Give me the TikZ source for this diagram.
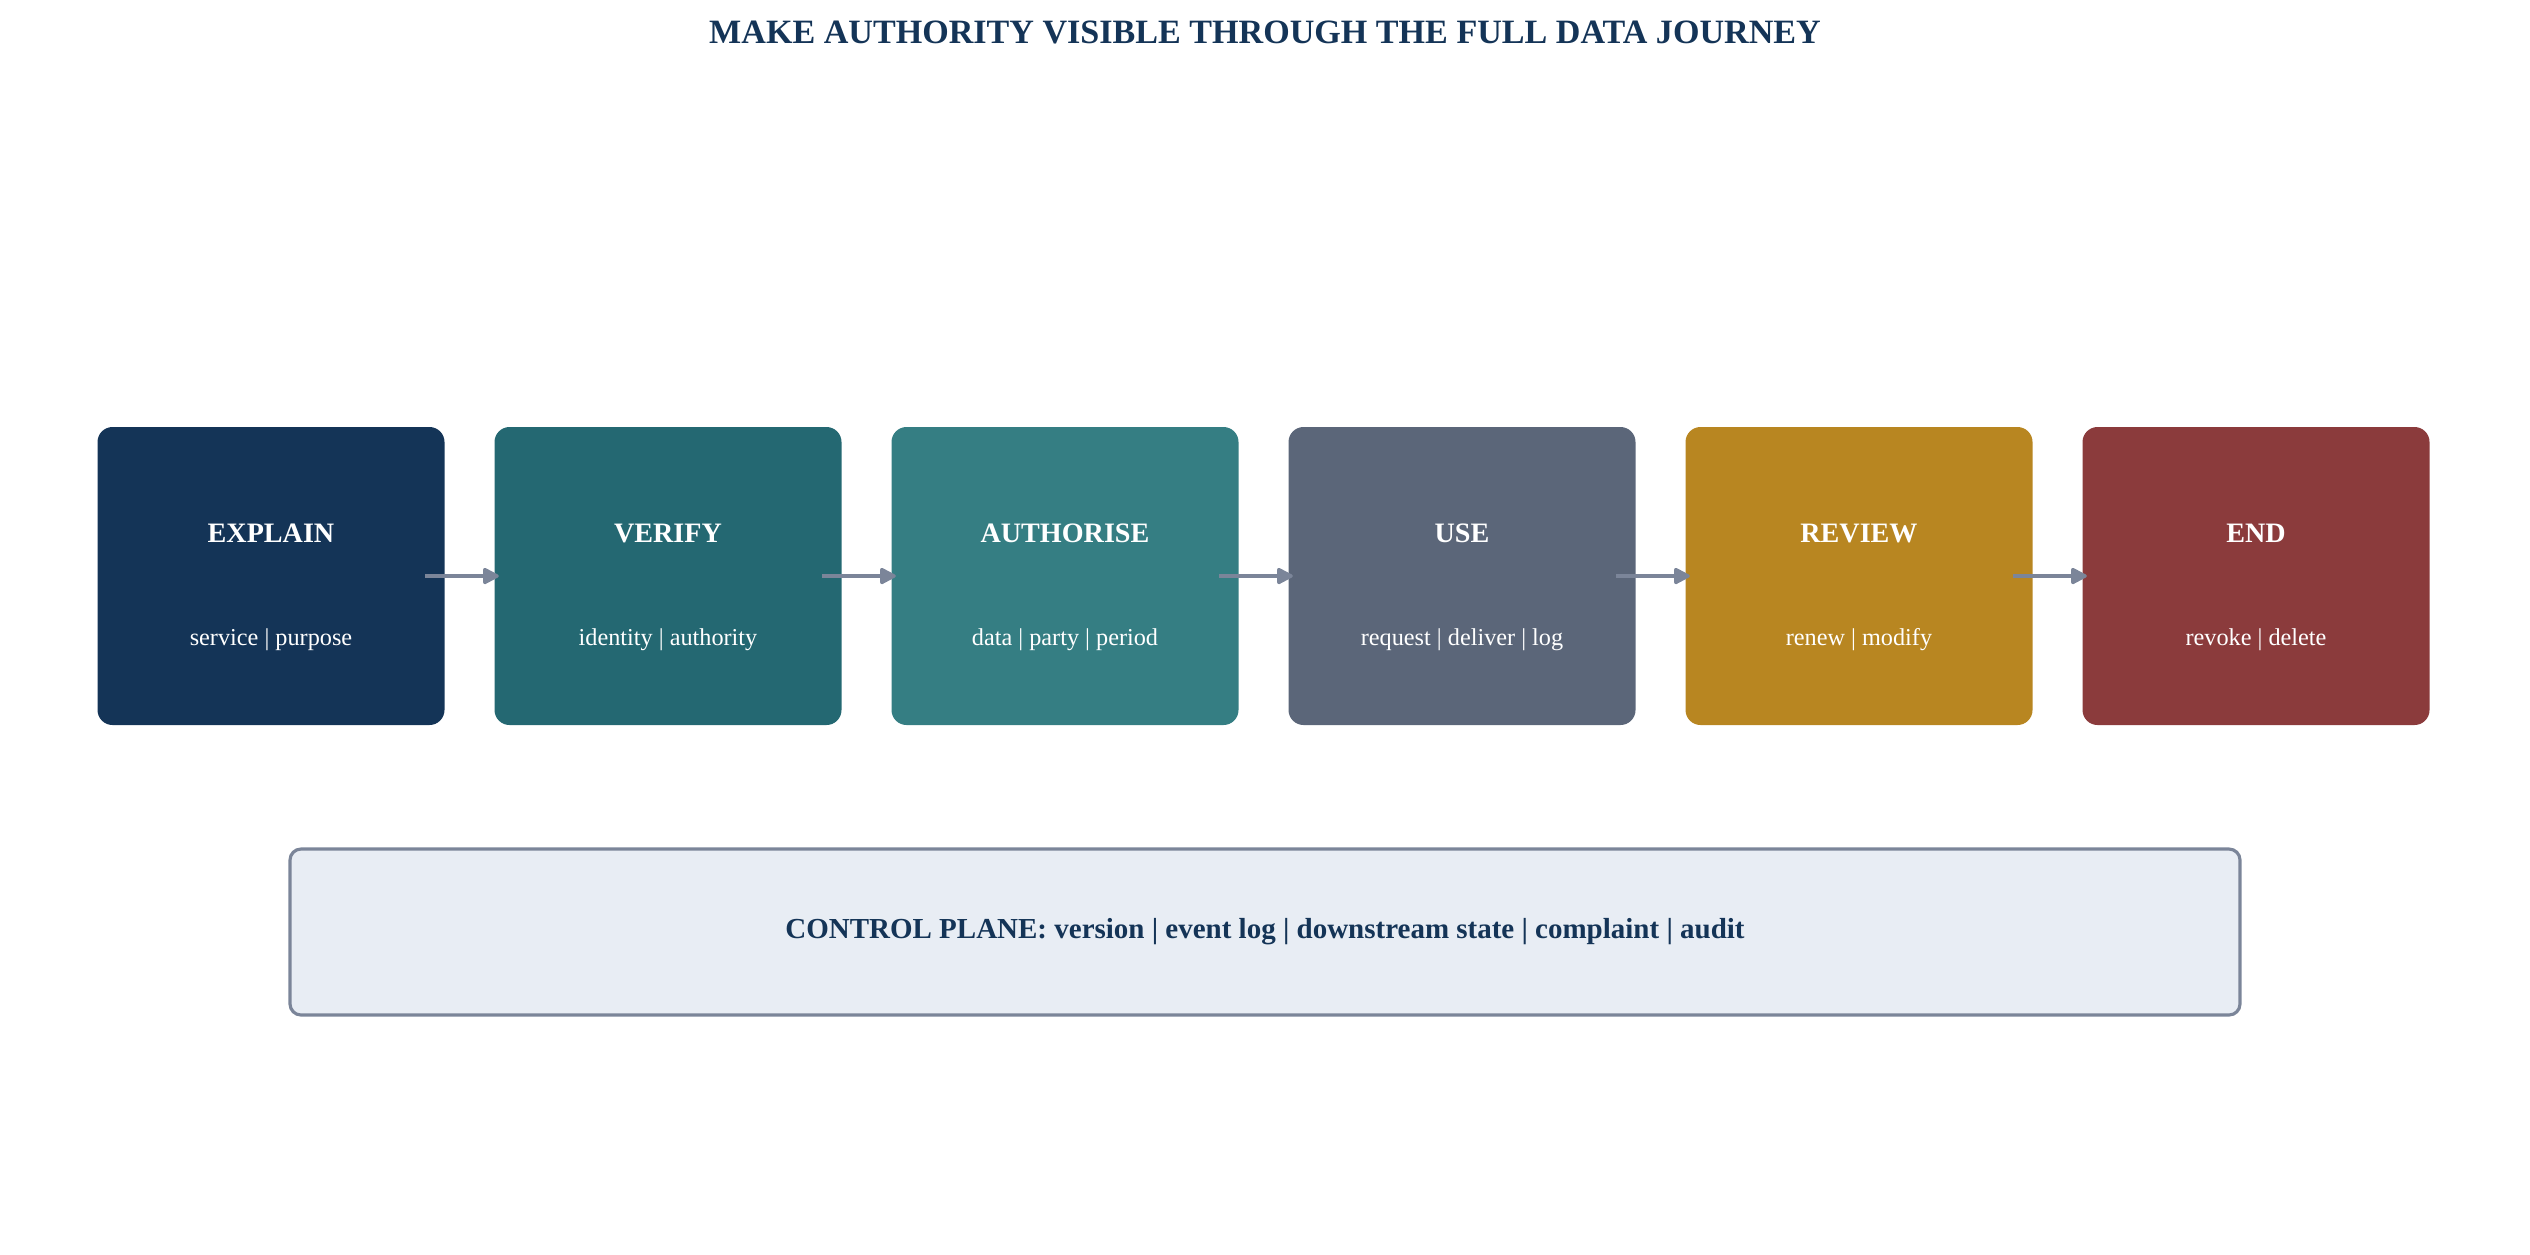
\documentclass[tikz,border=0pt]{standalone}
\usepackage{fontspec}
\setmainfont{Liberation Serif}
\usetikzlibrary{arrows.meta}
\definecolor{navy}{HTML}{143457}
\definecolor{cexplain}{HTML}{143457}
\definecolor{cverify}{HTML}{246872}
\definecolor{cauthorise}{HTML}{357E83}
\definecolor{cuse}{HTML}{5B6679}
\definecolor{creview}{HTML}{B88621}
\definecolor{cend}{HTML}{8B3B3C}
\definecolor{linegray}{HTML}{7B8599}
\definecolor{cpfill}{HTML}{E8EDF4}

\begin{document}
\begin{tikzpicture}[x=0.1mm,y=-0.1mm,
    stage/.style={rounded corners=1.5mm,minimum width=34.7mm,minimum height=29.8mm,inner sep=0pt},
    flow/.style={-{Triangle[length=5pt,width=5pt,round]},line width=0.9pt,linegray}]
  \useasboundingbox (0,0) rectangle (2530,1254);
  \node[text=navy,font=\bfseries\fontsize{9.7}{12}\selectfont] (title) at (1265,32) {MAKE AUTHORITY VISIBLE THROUGH THE FULL DATA JOURNEY};
  % stages
  \foreach \i/\name/\col/\ttl/\sbt in {0/explain/cexplain/EXPLAIN/service | purpose,
      1/verify/cverify/VERIFY/identity | authority,
      2/authorise/cauthorise/AUTHORISE/data | party | period,
      3/use/cuse/USE/request | deliver | log,
      4/review/creview/REVIEW/renew | modify,
      5/end/cend/END/revoke | delete} {
    \pgfmathsetmacro\cx{271+397*\i}
    \node[stage,fill=\col] (\name) at (\cx,576) {};
    \node[white,font=\bfseries\fontsize{8}{10}\selectfont] (\name-t) at (\cx,533) {\ttl};
    \node[white,font=\fontsize{6.9}{9}\selectfont] (\name-s) at (\cx,640) {\sbt};
  }
  \foreach \a/\b in {explain/verify,verify/authorise,authorise/use,use/review,review/end}
    \draw[flow] ([xshift=-2mm]\a.east) -- ([xshift=0.5mm]\b.west);
  % control plane
  \node[draw=linegray,fill=cpfill,line width=0.9pt,rounded corners=1.1mm,
        minimum width=195mm,minimum height=16.6mm,text=navy,
        font=\bfseries\fontsize{8.25}{10}\selectfont] (plane) at (1265,932)
        {CONTROL PLANE: version | event log | downstream state | complaint | audit};
\end{tikzpicture}
\end{document}
